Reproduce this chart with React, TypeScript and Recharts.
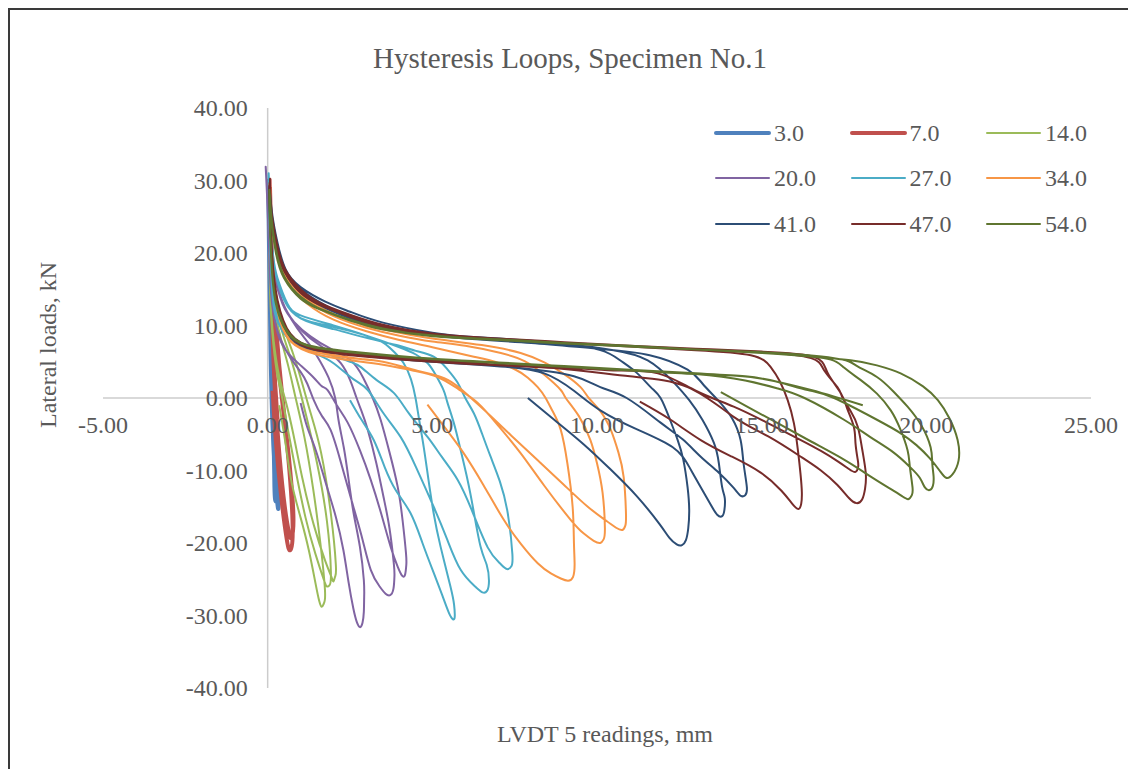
import { LineChart, Line, XAxis, YAxis, ReferenceLine, Legend } from "recharts";

type Pt = [number, number];

// LVDT 5 reading (mm), lateral load (kN)
const s3_0: Pt[] = [
  [0.15, -1], [0.18, -6], [0.2, -10.5], [0.22, -13.8], [0.27, -13.2], [0.24, -7], [0.17, 0], [0.1, 9],
  [0.05, 20], [0.02, 28], [0.05, 18], [0.09, 6], [0.14, -3], [0.22, -10], [0.3, -14.8], [0.33, -13.8],
  [0.27, -6], [0.19, 2], [0.1, 13], [0.03, 26], [0.02, 29], [0.06, 16], [0.1, 5], [0.15, -4], [0.2, -9],
];

const s7_0: Pt[] = [
  [0.15, 1], [0.25, -6], [0.42, -14], [0.58, -19.5], [0.68, -21], [0.76, -18.5], [0.66, -10], [0.48, -2],
  [0.32, 5], [0.18, 14], [0.08, 24], [0.06, 30], [0.09, 20], [0.14, 10], [0.22, 1], [0.36, -8],
  [0.52, -15], [0.65, -18.6], [0.73, -19.2], [0.78, -16], [0.64, -8], [0.45, 0], [0.27, 9], [0.12, 21],
  [0.07, 29], [0.1, 18], [0.18, 6], [0.3, -3],
];

const s14_0: Pt[] = [
  [0.35, -1], [0.55, -6.5], [0.73, -11.7], [1.0, -16.5], [1.25, -21], [1.45, -25.5], [1.56, -27.9], [1.64, -28.8],
  [1.71, -28.3], [1.74, -26.5], [1.6, -20], [1.38, -12.5], [1.12, -5.5], [0.85, 0], [0.62, 4.5], [0.4, 8.2],
  [0.2, 12.5], [0.08, 19], [0.03, 28], [0.06, 17], [0.14, 9], [0.28, 3.5], [0.42, 0.5],
  [0.6, -4], [0.85, -10], [1.15, -16.5], [1.45, -21.5], [1.7, -25], [1.8, -26], [1.88, -25.8], [1.92, -24],
  [1.8, -17], [1.5, -9], [1.2, -3], [0.95, 1.5], [0.7, 5.5], [0.45, 9], [0.22, 13.5], [0.08, 20], [0.03, 27],
  [0.07, 16], [0.18, 8], [0.35, 3], [0.55, -0.5],
  [0.78, -5], [1.05, -11], [1.4, -17.5], [1.75, -22.5], [1.93, -24.6], [2.0, -25.3], [2.05, -24.6], [2.07, -23],
  [1.92, -16], [1.62, -7.5], [1.3, -2], [1.05, 2], [0.78, 6], [0.5, 9.5], [0.25, 13.5], [0.1, 19], [0.04, 26],
];

const s20_0: Pt[] = [
  [1.0, -0.7], [1.2, -4], [1.46, -7.2], [1.75, -11.5], [2.07, -16.4], [2.3, -21], [2.46, -25.5], [2.6, -29],
  [2.7, -30.8], [2.8, -31.6], [2.88, -31], [2.92, -29.5], [2.93, -27.5], [2.92, -25.1], [2.8, -20.5], [2.61, -15.9],
  [2.45, -11], [2.31, -6.8], [2.15, -3], [2.05, 0], [1.85, 2.8], [1.6, 5], [1.3, 7.2], [0.9, 9.6],
  [0.55, 12.2], [0.3, 15], [0.13, 19.5], [0.03, 25.5], [-0.06, 31.9],
  [0.02, 24], [0.08, 16], [0.2, 11], [0.4, 8], [0.7, 5.5], [1.0, 3.6], [1.2, 2],
  [1.4, -0.3], [1.65, -2.5], [1.91, -4.4], [2.2, -8.5], [2.52, -13.7], [2.85, -19], [3.13, -23.7], [3.4, -26],
  [3.58, -27], [3.72, -27.2], [3.82, -26.3], [3.85, -24.5], [3.83, -22.8], [3.7, -18], [3.52, -13.7], [3.3, -9],
  [3.04, -4.4], [2.85, -1.8], [2.7, 0], [2.5, 2.5], [2.22, 4.8], [1.8, 6.6], [1.3, 8.2], [0.8, 10.5],
  [0.45, 13.3], [0.2, 17.5], [0.06, 23], [-0.03, 30],
  [0.04, 21], [0.12, 14], [0.3, 9], [0.6, 6.3], [1.0, 4.5], [1.4, 2.8], [1.65, 1.6],
  [1.82, 1.1], [2.1, -1], [2.43, -3.4], [2.8, -7.2], [3.13, -11.3], [3.45, -16], [3.74, -20.6], [3.95, -23.3],
  [4.08, -24.5], [4.17, -24.4], [4.21, -23], [4.2, -21.4], [4.1, -17], [3.95, -12.3], [3.7, -7.5], [3.43, -3],
  [3.19, 0], [2.9, 2.8], [2.52, 5.2], [1.91, 6.8], [1.3, 8.5], [0.8, 10.5], [0.45, 13], [0.2, 17.5],
  [0.06, 24], [0, 29],
];

const s27_0: Pt[] = [
  [2.5, -0.3], [2.85, -3], [3.22, -5.8], [3.55, -9.5], [3.9, -12.8], [4.34, -15.9], [4.7, -20], [5.04, -24.1],
  [5.3, -27.2], [5.5, -29.6], [5.62, -30.5], [5.68, -30.2], [5.66, -28.5], [5.55, -26], [5.25, -20.5], [5.04, -15.9],
  [4.88, -11.2], [4.74, -6.8], [4.6, -3], [4.49, 0], [4.35, 2.6], [4.13, 4.8], [3.85, 6.3], [3.52, 7.6],
  [3, 8.6], [2, 10], [1, 11.4], [0.6, 13], [0.3, 16.5], [0.12, 22], [0.03, 31],
  [0.07, 22], [0.15, 14], [0.3, 10.5], [0.6, 8.5], [0.9, 7.3], [1.5, 6], [2, 4.8], [2.6, 2.6], [3.04, 1.1],
  [3.5, -2], [4.04, -5.4], [4.5, -9.5], [5.04, -15], [5.45, -19.5], [5.86, -23.7], [6.3, -26], [6.52, -26.8],
  [6.66, -26.6], [6.72, -25.2], [6.65, -23], [6.47, -20.6], [6.25, -15.5], [6.07, -11.3], [5.85, -7], [5.65, -3.4],
  [5.45, -0.5], [5.34, 1.1], [5.1, 3.2], [4.86, 4.8], [4.5, 6], [4, 7], [3, 8.6], [2, 9.8],
  [1, 11], [0.5, 13.5], [0.25, 17], [0.1, 23], [0.04, 30],
  [0.1, 19], [0.3, 11], [0.7, 8], [1.3, 6.6], [2, 5.8], [2.5, 5], [2.82, 4.3], [3.3, 2.5],
  [3.83, 0.7], [4.3, -2.2], [4.86, -5.4], [5.3, -8.2], [5.77, -11.3], [6.2, -15.5], [6.68, -20.6], [7.05, -22.8],
  [7.27, -23.6], [7.4, -23.2], [7.43, -21.5], [7.29, -15.9], [7.05, -11.5], [6.77, -8.1], [6.5, -4.8], [6.26, -2.1],
  [6.0, 0], [5.77, 2.1], [5.45, 4], [5.04, 5.7], [4.5, 6.5], [4, 7.2], [3, 8.3], [2, 9.5],
  [1, 11], [0.5, 13.5], [0.25, 17], [0.1, 23], [0.05, 29],
  [0.1, 19], [0.3, 11], [0.7, 8], [1.5, 6.3],
];

const s34_0: Pt[] = [
  [4.85, -0.9], [5.4, -4.2], [5.95, -7.6], [6.55, -12], [7.17, -16.8], [7.7, -20.2], [8.2, -22.8], [8.6, -24.2],
  [8.9, -24.9], [9.12, -25.2], [9.27, -24.7], [9.32, -23], [9.3, -20], [9.26, -15], [9.1, -9], [8.9, -4.4],
  [8.65, -1.8], [8.44, 0], [8.2, 1.5], [7.9, 2.8], [7.53, 3.9], [6.9, 5], [6.26, 5.7], [5, 7],
  [4, 8], [3, 9.2], [2, 10.8], [1.2, 13], [0.6, 16], [0.3, 19.5], [0.12, 24], [0.06, 29],
  [0.12, 20], [0.3, 12], [0.7, 7.8], [1.5, 6], [2.5, 5.2], [3.5, 4.6], [4.4, 3.8],
  [5.16, 2.9], [5.8, 1.2], [6.38, -0.7], [7.0, -3.8], [7.68, -7.6], [8.4, -12.1], [9.2, -16.8], [9.6, -18.7],
  [9.9, -19.7], [10.1, -20], [10.2, -19.5], [10.24, -18], [10.17, -13.1], [10.0, -9], [9.8, -5.8], [9.45, -2.5],
  [9.05, 0], [8.9, 1.1], [8.4, 3.2], [7.8, 5.1], [7.08, 6.2], [6, 7.2], [5, 7.8], [4, 8.6],
  [3, 9.7], [2, 11.3], [1.2, 13.5], [0.6, 16.5], [0.3, 20], [0.12, 24.5], [0.06, 29.5],
  [0.12, 20.5], [0.3, 12.5], [0.7, 8], [1.5, 6.3], [2.5, 5.5], [3.5, 5], [4.6, 3.7],
  [5.47, 2.5], [6.1, 0.3], [6.68, -2.1], [7.4, -5.2], [8.2, -8.6], [9.0, -12], [9.72, -15], [10.3, -17],
  [10.58, -17.9], [10.77, -18.2], [10.86, -17.6], [10.88, -16], [10.81, -10.9], [10.65, -7.5], [10.42, -4.4], [10.1, -1.8],
  [9.75, 0], [9.5, 1.5], [9.0, 3.3], [8.4, 4.9], [7.68, 6.2], [6.5, 7.3], [5, 8.2], [4, 9],
  [3, 10], [2, 11.6], [1.2, 13.8], [0.6, 17], [0.3, 20.5], [0.12, 25], [0.07, 29.8],
  [0.12, 21], [0.3, 13], [0.7, 8.2], [1.5, 6.4], [2.5, 5.6], [3.2, 5.2],
];

const s41_0: Pt[] = [
  [7.9, 0], [8.7, -3], [9.6, -6.4], [10.4, -9.8], [11.2, -13.5], [11.9, -17.4], [12.2, -19.3], [12.42, -20.2],
  [12.58, -20.3], [12.7, -19.6], [12.77, -18], [12.8, -15.5], [12.75, -12.3], [12.62, -8.5], [12.45, -5.8], [12.2, -2.8],
  [11.93, 0], [11.63, 1.5], [11.2, 3.5], [10.7, 5.2], [10.1, 6.6], [9, 7.5], [8, 7.9], [6, 8.5],
  [5, 9], [3.5, 10.4], [2.5, 11.9], [1.75, 13.3], [1.0, 15.3], [0.55, 17.7], [0.3, 21.4], [0.12, 26], [0.05, 29],
  [0.1, 22], [0.25, 14], [0.6, 9], [1.2, 6.9], [2.5, 6], [4.5, 5.2], [7, 4.4], [8.4, 3.4],
  [9.3, 1], [10.1, -1.7], [11.2, -4.3], [12.3, -6.8], [12.8, -9.5], [13.15, -12.3], [13.45, -14.7], [13.65, -16.1],
  [13.8, -16.3], [13.87, -15.4], [13.88, -13.8], [13.8, -12.3], [13.7, -9], [13.55, -6.2], [13.2, -3], [12.8, -0.3],
  [12.3, 2.3], [11.54, 5.2], [10.5, 6.6], [9, 7.4], [7, 8], [5, 8.8], [3, 10.5], [2, 12.2],
  [1.2, 14.3], [0.6, 17], [0.3, 20.5], [0.1, 26], [0.04, 28.5],
  [0.12, 20], [0.3, 12.5], [0.7, 8.5], [1.5, 6.8], [3, 5.8], [5, 5], [7.5, 4.2], [9.3, 3],
  [10.1, 1.5], [10.9, 0], [11.93, -3.4], [12.6, -5.7], [13.15, -8.1], [13.7, -10.3], [14.15, -12.4], [14.37, -13.5],
  [14.5, -13.4], [14.55, -12.3], [14.45, -9], [14.36, -5.8], [14.1, -2.8], [13.67, -0.3], [13.2, 2], [12.75, 3.9],
  [11.6, 5.9], [10, 6.8], [8, 7.6], [6, 8.2], [4, 9.3], [2.5, 11], [1.5, 13], [0.8, 15.5],
  [0.35, 19.5], [0.12, 25], [0.06, 28],
  [0.15, 18], [0.4, 11], [1, 7.5], [2, 6.3], [4, 5.4],
];

const s47_0: Pt[] = [
  [11.3, -0.5], [12.2, -2.9], [13.15, -5.8], [14.1, -8.1], [14.97, -10.3], [15.6, -12.8], [15.95, -14.7], [16.12, -15.3],
  [16.2, -14.6], [16.22, -13], [16.18, -10.5], [16.1, -7.2], [15.98, -3.5], [15.79, -0.3], [15.55, 2.3], [15.27, 4.3],
  [14.67, 5.9], [13, 6.6], [11, 7.1], [9, 7.7], [7, 8.1], [5, 8.7], [3.5, 9.8], [2.5, 11.2],
  [1.6, 12.8], [1, 14.5], [0.5, 17.5], [0.25, 21], [0.1, 26], [0.05, 29],
  [0.12, 20], [0.3, 13], [0.7, 8.5], [1.5, 6.6], [3, 5.7], [5, 5], [7, 4.5], [9, 4], [11, 3],
  [12.75, 1.5], [14.15, -2.6], [15.2, -5.3], [16.19, -8.1], [16.8, -10], [17.3, -12], [17.65, -13.8], [17.88, -14.5],
  [18.05, -14], [18.14, -12.5], [18.16, -10.3], [18.05, -7], [17.92, -4], [17.7, -1.8], [17.46, 0], [17.3, 1.5],
  [16.9, 3.8], [16.5, 5.5], [15, 6.3], [13, 6.7], [11, 7.1], [9, 7.6], [7, 8.1], [5, 8.8],
  [3.5, 10], [2.5, 11.4], [1.6, 13], [1, 14.8], [0.5, 17.8], [0.25, 21.5], [0.1, 26], [0.06, 29.5],
  [0.12, 21], [0.3, 13.5], [0.7, 8.8], [1.5, 6.8], [3, 5.9], [5, 5.2], [7, 4.6], [9, 4.2], [10.5, 3.8],
  [11.85, 3.4], [13, 1], [14.15, -1.2], [15.2, -3.5], [16.19, -5.8], [16.8, -7.3], [17.3, -8.7], [17.65, -9.8],
  [17.85, -10.2], [17.93, -9.5], [17.92, -8.6], [17.85, -6.3], [17.8, -4], [17.6, -1.5], [17.4, 0.7], [17.0, 3.5],
  [16.58, 5.7], [15, 6.4], [13, 6.8], [11, 7.2], [9, 7.7], [7, 8.2], [5, 8.9], [3.5, 10.1],
  [2.5, 11.5], [1.6, 13.1], [1, 15], [0.5, 18], [0.25, 22], [0.1, 26.5], [0.07, 30],
  [0.12, 21], [0.3, 13.5], [0.7, 8.8], [1.5, 6.8], [3, 5.9], [5, 5.2], [6.5, 4.8],
];

const s54_0: Pt[] = [
  [13.76, 0.8], [14.6, -1.3], [15.5, -3.5], [16.5, -6], [17.5, -8.5], [18.3, -10.8], [18.9, -12.5], [19.25, -13.5],
  [19.45, -13.95], [19.56, -13.4], [19.58, -12.3], [19.5, -9.5], [19.43, -7.2], [19.2, -4.2], [18.92, -1.7], [18.5, 0.6],
  [18.0, 2.5], [17.5, 4.2], [16.88, 5.5], [15, 6.2], [13, 6.7], [11, 7.1], [9, 7.5], [7, 8],
  [5, 8.5], [3.5, 9.5], [2.5, 10.7], [1.6, 12.2], [1, 13.7], [0.5, 16.5], [0.25, 20], [0.1, 25], [0.05, 28],
  [0.1, 20], [0.25, 13], [0.6, 9], [1.2, 7.2], [2.5, 6.3], [4.5, 5.5], [7, 4.8], [9, 4.3],
  [11, 3.8], [13, 3.3], [14.5, 2.4], [15.5, 1.3],
  [16.3, 0], [17.5, -3], [18.3, -5.4], [19, -7.5], [19.5, -9.5], [19.8, -11], [19.95, -12.3], [20.1, -12.7],
  [20.2, -12.1], [20.22, -10.8], [20.18, -9], [20.13, -6.8], [19.85, -3.8], [19.43, -1.2], [19, 0.9], [18.5, 2.9],
  [17.9, 4.4], [17.2, 5.5], [15, 6.3], [13, 6.7], [11, 7.2], [9, 7.6], [7, 8.1], [5, 8.6],
  [3.5, 9.6], [2.5, 10.8], [1.6, 12.3], [1, 13.9], [0.5, 16.8], [0.25, 20.5], [0.1, 25.5], [0.05, 28.5],
  [0.1, 20.5], [0.25, 13.3], [0.6, 9.2], [1.2, 7.3], [2.5, 6.4], [4.5, 5.6], [7, 4.9], [9, 4.4],
  [11, 3.9], [13, 3.4], [14.5, 3], [15.5, 2.2], [16.4, 1.1],
  [17.2, 0], [18.5, -3], [19.2, -4.8], [19.7, -6.5], [20.1, -8.3], [20.4, -10], [20.6, -11], [20.8, -10.5],
  [20.98, -8.6], [20.95, -5.8], [20.7, -2.8], [20.35, -0.3], [19.9, 1.6], [19.22, 3.4], [18.5, 4.5], [17.7, 5.2],
  [16, 5.9], [14, 6.5], [12, 6.9], [10, 7.3], [8, 7.8], [6, 8.3], [4, 9.1], [3, 10],
  [2, 11.5], [1.2, 13.3], [0.6, 16], [0.3, 19.5], [0.12, 24.5], [0.06, 28],
  [0.1, 20], [0.25, 13], [0.6, 9], [1.2, 7.2], [2.5, 6.3], [4.5, 5.5], [7, 4.8], [9, 4.3],
  [11, 3.8], [13, 3.3], [14.67, 2.9], [16.5, 1.1], [18.07, -1],
];

const SERIES = [
  { name: "3.0", color: "#4F81BD", width: 4, pts: s3_0 },
  { name: "7.0", color: "#C0504D", width: 4, pts: s7_0 },
  { name: "14.0", color: "#9BBB59", width: 2, pts: s14_0 },
  { name: "20.0", color: "#8064A2", width: 2, pts: s20_0 },
  { name: "27.0", color: "#4BACC6", width: 2, pts: s27_0 },
  { name: "34.0", color: "#F79646", width: 2, pts: s34_0 },
  { name: "41.0", color: "#2C4D75", width: 2, pts: s41_0 },
  { name: "47.0", color: "#772C2A", width: 2, pts: s47_0 },
  { name: "54.0", color: "#5F7530", width: 2, pts: s54_0 },
];

const X_TICKS = [-5, 0, 5, 10, 15, 20, 25];
const Y_TICKS = [-40, -30, -20, -10, 0, 10, 20, 30, 40];

const FONT = '"Liberation Serif", "Times New Roman", serif';
const TEXT = "#595959";

const W = 1126;
const H = 759;
// axes get 1px each (a 0-size axis is not drawn at all)
const M = { top: 98, right: 45, bottom: 80, left: 92 };
const X_MIN = -5, X_MAX = 25, Y_MIN = -40, Y_MAX = 40;
const plotLeft = M.left + 1;
const plotW = W - plotLeft - M.right;
const plotH = H - M.top - M.bottom - 1;
const zeroX = plotLeft + (plotW * (0 - X_MIN)) / (X_MAX - X_MIN);
const zeroY = M.top + (plotH * (Y_MAX - 0)) / (Y_MAX - Y_MIN);

const toXY = (pts: Pt[]) => pts.map(([x, y]) => ({ x, y }));

const XTick = (props: any) => {
  const { x, payload } = props;
  return (
    <text x={x} y={zeroY + 35} textAnchor="middle" fill={TEXT} fontSize={24} fontFamily={FONT}>
      {Number(payload.value).toFixed(2)}
    </text>
  );
};

const YTick = (props: any) => {
  const { y, payload } = props;
  return (
    <text x={zeroX - 20} y={y + 8} textAnchor="end" fill={TEXT} fontSize={24} fontFamily={FONT}>
      {Number(payload.value).toFixed(2)}
    </text>
  );
};

const renderLegend = () => (
  <div style={{ display: "grid", gridTemplateColumns: "repeat(3, 135.5px)", gridAutoRows: "45.5px" }}>
    {SERIES.map((s) => (
      <div key={s.name} style={{ display: "flex", alignItems: "center" }}>
        <svg width={58} height={10} style={{ overflow: "visible" }}>
          <line x1={0} y1={5} x2={53} y2={5} stroke={s.color} strokeWidth={s.width} strokeLinecap="round" />
        </svg>
        <span style={{ fontFamily: FONT, fontSize: 24, color: TEXT, lineHeight: "24px" }}>{s.name}</span>
      </div>
    ))}
  </div>
);

export default function App() {
  return (
    <div
      style={{
        position: "relative",
        width: W,
        height: H,
        borderLeft: "2px solid #3a3a3a",
        borderTop: "2px solid #3a3a3a",
        background: "#fff",
      }}
    >
      <LineChart width={W} height={H} margin={M}>
        <XAxis
          type="number"
          dataKey="x"
          domain={[X_MIN, X_MAX]}
          ticks={X_TICKS}
          interval={0}
          axisLine={false}
          tickLine={false}
          tick={XTick}
          height={1}
        />
        <YAxis
          type="number"
          dataKey="y"
          domain={[Y_MIN, Y_MAX]}
          ticks={Y_TICKS}
          interval={0}
          axisLine={false}
          tickLine={false}
          tick={YTick}
          width={1}
        />
        <ReferenceLine y={0} stroke="#cccccc" strokeWidth={1.5} />
        <ReferenceLine x={0} stroke="#cccccc" strokeWidth={1.5} />
        {SERIES.map((s) => (
          <Line
            key={s.name}
            name={s.name}
            data={toXY(s.pts)}
            dataKey="y"
            type="natural"
            stroke={s.color}
            strokeWidth={s.width}
            dot={false}
            activeDot={false}
            isAnimationActive={false}
          />
        ))}
        <Legend
          layout="horizontal"
          verticalAlign="middle"
          align="center"
          wrapperStyle={{ position: "absolute", left: 706, top: 100, width: 420 }}
          content={renderLegend}
        />
      </LineChart>
      <svg width={W} height={H} style={{ position: "absolute", left: 0, top: 0, pointerEvents: "none" }}>
        <text x={560} y={58} textAnchor="middle" fill={TEXT} fontSize={29} fontFamily={FONT}>
          Hysteresis Loops, Specimen No.1
        </text>
        <text x={595} y={732} textAnchor="middle" fill={TEXT} fontSize={24} fontFamily={FONT}>
          LVDT 5 readings, mm
        </text>
        <text
          x={46}
          y={335}
          textAnchor="middle"
          fill={TEXT}
          fontSize={24}
          fontFamily={FONT}
          transform="rotate(-90 46 335)"
        >
          Lateral loads, kN
        </text>
      </svg>
    </div>
  );
}
